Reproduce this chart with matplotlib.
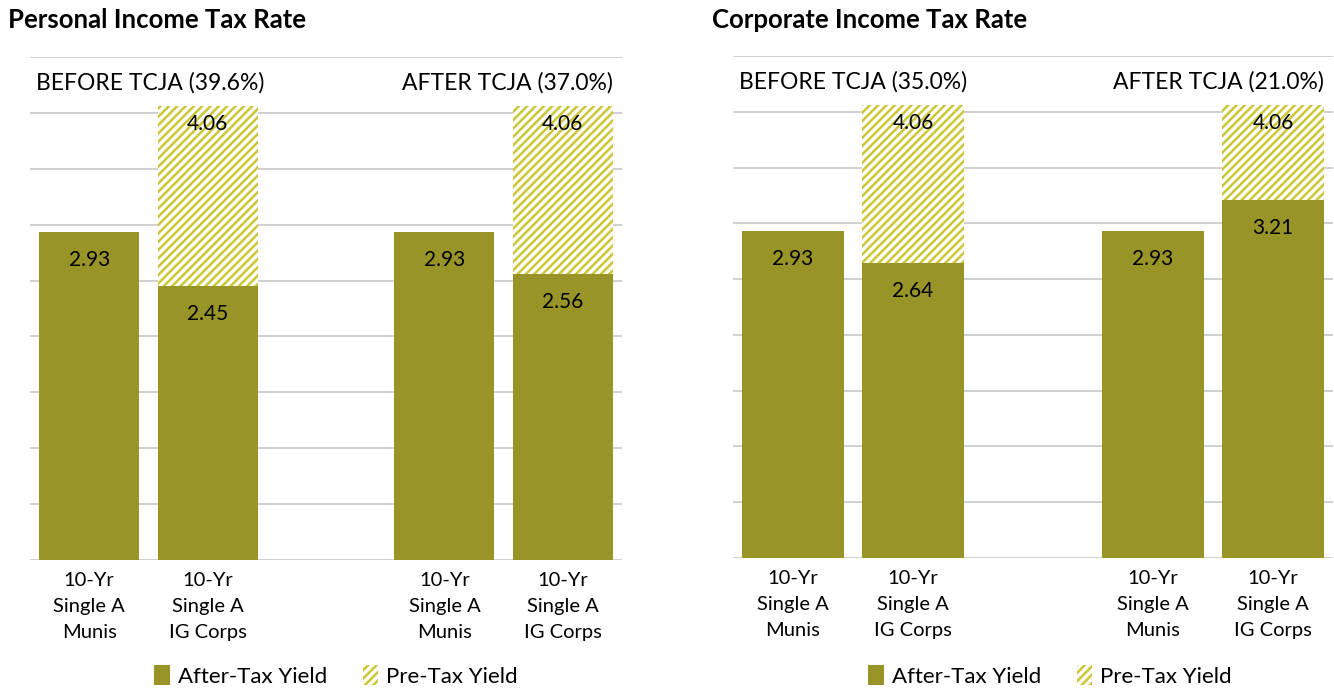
import matplotlib
matplotlib.use("Agg")
import matplotlib.pyplot as plt
from matplotlib.patches import Patch
import numpy as np

plt.rcParams['font.family'] = ['Lato', 'DejaVu Sans']
plt.rcParams['hatch.linewidth'] = 1.8

# data
categories = ["10-Yr\nSingle A\nMunis", "10-Yr\nSingle A\nIG Corps",
              "10-Yr\nSingle A\nMunis", "10-Yr\nSingle A\nIG Corps"]
is_corp = [False, True, False, True]
personal_after = [2.93, 2.45, 2.93, 2.56]
corporate_after = [2.93, 2.64, 2.93, 3.21]
pre_tax = [2.93, 4.06, 2.93, 4.06]
personal_groups = ["BEFORE TCJA (39.6%)", "AFTER TCJA (37.0%)"]
corporate_groups = ["BEFORE TCJA (35.0%)", "AFTER TCJA (21.0%)"]

OLIVE = "#989428"
YELLOW = "#cbc736"
GRID = "#c8c8c8"

xpos = [0, 1, 3, 4]

fig = plt.figure(figsize=(13.34, 6.88), dpi=100)


def panel(rect, title, title_x, after, groups, legend_x, bw):
    ax = fig.add_axes(rect)
    ax.set_xlim(-0.5, 4.5)
    ax.set_ylim(0, 4.5)
    ax.set_yticks(np.arange(0, 4.51, 0.5))
    ax.yaxis.grid(True, color=GRID, lw=1.2)
    ax.set_axisbelow(True)
    for s in ax.spines.values():
        s.set_visible(False)
    ax.tick_params(axis='y', length=0, labelleft=False)
    ax.tick_params(axis='x', length=0, pad=9, labelsize=14.5)
    ax.set_xticks(xpos)
    ax.set_xticklabels(categories, linespacing=1.62)

    for i, x in enumerate(xpos):
        ax.bar(x, after[i], width=bw, color=OLIVE, zorder=3)
        ax.annotate(f"{after[i]:.2f}", (x, after[i]), xytext=(0, -20),
                    textcoords='offset points', ha='center', va='center',
                    fontsize=15, color='black', zorder=5)
        if is_corp[i]:
            ax.bar(x, pre_tax[i] - after[i], bottom=after[i], width=bw,
                   facecolor='white', edgecolor=YELLOW, hatch='////',
                   linewidth=0, zorder=3)
            ax.annotate(f"{pre_tax[i]:.2f}", (x, pre_tax[i]), xytext=(0, -13),
                        textcoords='offset points', ha='center', va='center',
                        fontsize=15, color='black', zorder=5)

    ax.text(-0.45, 4.27, groups[0], ha='left', va='center', fontsize=16.5)
    ax.text(4.42, 4.27, groups[1], ha='right', va='center', fontsize=16.5)

    fig.text(title_x, 1 - 20 / 688, title, ha='left', va='center',
             fontsize=18.5, fontweight='bold')

    handles = [Patch(facecolor=OLIVE, edgecolor='none', label='After-Tax Yield'),
               Patch(facecolor='white', edgecolor=YELLOW, hatch='////',
                     linewidth=0, label='Pre-Tax Yield')]
    fig.legend(handles=handles, loc='center', bbox_to_anchor=(legend_x, 1 - 676 / 688),
               ncol=2, frameon=False, fontsize=16, handlelength=0.7,
               handleheight=1.0, handletextpad=0.35, columnspacing=1.6,
               borderpad=0)
    return ax


panel([30 / 1334, 128 / 688, 592 / 1334, 503 / 688], "Personal Income Tax Rate",
      8 / 1334, personal_after, personal_groups, 336 / 1334, 0.845)
panel([733 / 1334, 130 / 688, 600 / 1334, 502 / 688], "Corporate Income Tax Rate",
      712 / 1334, corporate_after, corporate_groups, 1050 / 1334, 0.85)

fig.savefig("out.png", dpi=100)
